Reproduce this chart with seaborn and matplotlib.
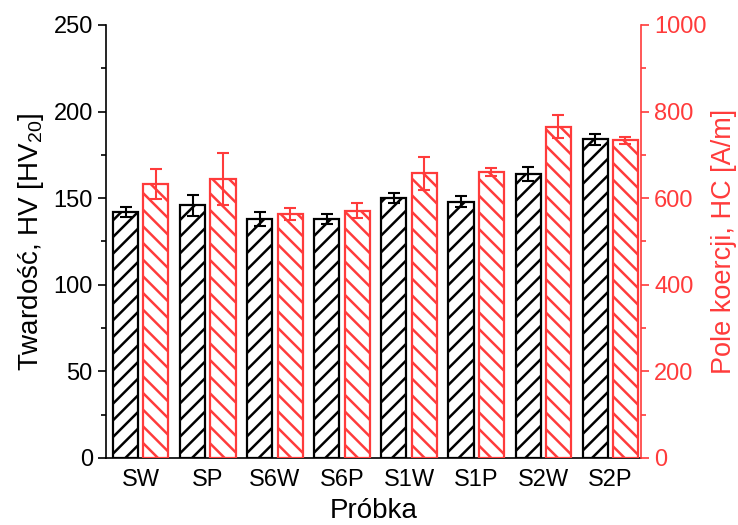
import numpy as np
import pandas as pd
import matplotlib
matplotlib.use("Agg")
import matplotlib.pyplot as plt
import seaborn as sns

# data
samples = ["SW", "SP", "S6W", "S6P", "S1W", "S1P", "S2W", "S2P"]
hv = [142, 146, 138, 138, 150, 148, 164, 184]
hv_err = [3, 6, 4, 3, 3, 3, 4, 3]
hc = [633, 645, 564, 571, 658, 660, 765, 734]
hc_err = [34, 60, 14, 17, 38, 9, 26, 8]

RED = "#FF3B3B"

sns.set_theme(style="ticks")
plt.rcParams['font.family'] = ['Liberation Sans', 'DejaVu Sans']
plt.rcParams['mathtext.default'] = 'regular'
plt.rcParams['hatch.linewidth'] = 1.8
plt.rcParams['text.color'] = 'black'
plt.rcParams['axes.labelcolor'] = 'black'
plt.rcParams['xtick.color'] = 'black'
plt.rcParams['ytick.color'] = 'black'

df = pd.DataFrame({
    "Próbka": samples * 2,
    "seria": ["HV"] * len(samples) + ["HC"] * len(samples),
    "HV": hv + [np.nan] * len(samples),
    "HC": [np.nan] * len(samples) + hc,
})

fig = plt.figure(figsize=(7.38, 5.25), dpi=100)
ax = fig.add_axes([106 / 738, 1 - 458 / 525, 535 / 738, 433 / 525])
ax2 = ax.twinx()

sns.barplot(data=df, x="Próbka", y="HV", hue="seria", hue_order=["HV", "HC"],
            dodge=True, width=0.9, gap=0.17, legend=False, errorbar=None,
            palette=["white", "white"], ax=ax)
sns.barplot(data=df, x="Próbka", y="HC", hue="seria", hue_order=["HV", "HC"],
            dodge=True, width=0.9, gap=0.17, legend=False, errorbar=None,
            palette=["white", "white"], ax=ax2)


def real_bars(a):
    out = [p for p in a.patches if np.isfinite(p.get_height()) and p.get_height() > 0]
    return sorted(out, key=lambda p: p.get_x())


for p, e in zip(real_bars(ax), hv_err):
    p.set_edgecolor("black")
    p.set_hatch("//")
    p.set_linewidth(1.6)
    xc = p.get_x() + p.get_width() / 2
    ax.errorbar(xc, p.get_height(), yerr=e, color="black", capsize=4,
                elinewidth=1.5, capthick=1.5)

for p, e in zip(real_bars(ax2), hc_err):
    p.set_edgecolor(RED)
    p.set_hatch("\\\\")
    p.set_linewidth(1.6)
    xc = p.get_x() + p.get_width() / 2
    ax2.errorbar(xc, p.get_height(), yerr=e, color=RED, capsize=4,
                 elinewidth=1.5, capthick=1.5)

ax.set_xlim(-0.52, 7.46)
ax.set_ylim(0, 250)
ax2.set_ylim(0, 1000)
ax.set_yticks(np.arange(0, 251, 50))
ax.set_yticks(np.arange(25, 250, 50), minor=True)
ax2.set_yticks(np.arange(0, 1001, 200))
ax2.set_yticks(np.arange(100, 1000, 200), minor=True)

ax.set_xlabel("Próbka", fontsize=20, labelpad=5, color="black")
ax.set_ylabel("Twardość, HV [HV$_{20}$]", fontsize=20, labelpad=5, color="black")
ax2.set_ylabel("Pole koercji, HC [A/m]", fontsize=19.5, color=RED, labelpad=3)

ax.tick_params(axis="x", length=0, labelsize=17, pad=8, labelcolor="black")
ax.tick_params(axis="y", which="major", length=6, width=1.2, labelsize=17,
               color="black", labelcolor="black")
ax.tick_params(axis="y", which="minor", length=3.5, width=1.2, color="black")
ax2.tick_params(axis="y", which="major", length=6, width=1.2, labelsize=17,
                color=RED, labelcolor=RED)
ax2.tick_params(axis="y", which="minor", length=3.5, width=1.2, color=RED)

for a in (ax, ax2):
    a.spines["top"].set_visible(False)
    for s in a.spines.values():
        s.set_linewidth(1.2)
ax.spines["right"].set_visible(False)
ax2.spines["left"].set_visible(False)
ax2.spines["bottom"].set_visible(False)
ax2.spines["right"].set_color(RED)
ax.spines["left"].set_color("black")
ax.spines["bottom"].set_color("black")

fig.savefig("out.png", dpi=100)
